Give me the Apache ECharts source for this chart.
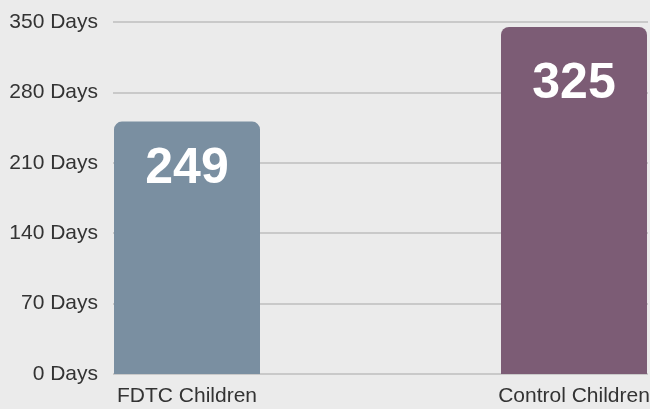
<!DOCTYPE html>
<html>
<head>
<meta charset="utf-8">
<script src="https://cdn.jsdelivr.net/npm/echarts@6/dist/echarts.min.js"></script>
<style>
html,body{margin:0;padding:0;background:#ebebeb;}
#chart{width:650px;height:409px;}
</style>
</head>
<body>
<div id="chart"></div>
<script>
// Data
const categories = ['FDTC Children', 'Control Children'];
const barValues = [251, 345];          // bar heights as drawn against the axis
const barLabels = ['249', '325'];      // numbers printed on the bars
const yTicks = { min: 0, max: 350, interval: 70, unit: 'Days' };

// styling (not data)
const barColors = ['#7a8fa1', '#7c5c75'];
const labelDistances = [23, 32];

const chart = echarts.init(document.getElementById('chart'), null, { renderer: 'canvas' });
const font = 'Liberation Sans, Arial, sans-serif';

chart.setOption({
  backgroundColor: '#ebebeb',
  animation: false,
  grid: [
    { left: 113, right: 2, top: 22, bottom: 35, outerBoundsMode: 'none' },
    { left: 187, right: 76, top: 22, bottom: 35, outerBoundsMode: 'none' }
  ],
  xAxis: [
    { gridIndex: 0, type: 'category', data: categories, show: false },
    {
      gridIndex: 1, type: 'category', data: categories, boundaryGap: false,
      axisLine: { show: false }, axisTick: { show: false },
      axisLabel: { color: '#333', fontSize: 21, fontFamily: font, margin: 12 }
    }
  ],
  yAxis: [
    {
      gridIndex: 0, type: 'value', min: yTicks.min, max: yTicks.max, interval: yTicks.interval,
      axisLine: { show: false }, axisTick: { show: false },
      axisLabel: { color: '#333', fontSize: 21, fontFamily: font, margin: 15,
        formatter: v => v + ' ' + yTicks.unit },
      splitLine: { lineStyle: { color: '#c9c9c9', width: 2 } }
    },
    {
      gridIndex: 1, type: 'value', min: yTicks.min, max: yTicks.max, interval: yTicks.interval,
      show: false, splitLine: { show: false }
    }
  ],
  series: [{
    type: 'bar',
    xAxisIndex: 1, yAxisIndex: 1,
    barWidth: 146,
    data: barValues.map((v, i) => ({
      value: v,
      itemStyle: { color: barColors[i] },
      label: { distance: labelDistances[i] }
    })),
    itemStyle: { borderRadius: [8, 8, 0, 0] },
    label: {
      show: true, position: 'insideTop',
      color: '#ffffff', fontSize: 50, fontWeight: 'bold', fontFamily: font,
      formatter: p => barLabels[p.dataIndex]
    }
  }]
});
</script>
</body>
</html>
